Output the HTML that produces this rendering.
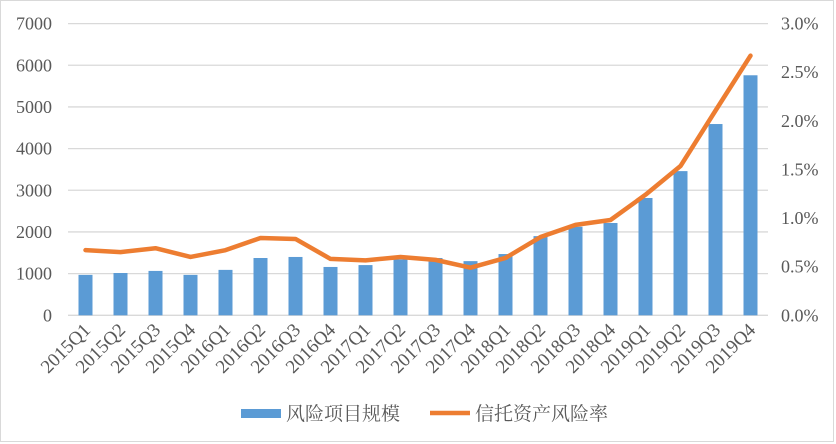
<!DOCTYPE html>
<html><head><meta charset="utf-8"><style>
html,body{margin:0;padding:0;background:#fff}
svg{display:block;font-family:"Liberation Serif","Noto Serif CJK SC","Noto Sans CJK SC",serif}
</style></head><body>
<svg id="chart" width="836" height="444" xmlns="http://www.w3.org/2000/svg">
<rect x="0.5" y="0.5" width="833" height="441" fill="#fff" stroke="#d9d9d9"/>
<g id="grid"></g>
<g id="bars"></g>
<polyline id="line" fill="none" stroke="#ed7d31" stroke-width="4.5" stroke-linejoin="round" stroke-linecap="round"/>
<g id="ylab"></g>
<g id="y2lab"></g>
<g id="xlab"></g>
<g>
<g>
<rect x="241" y="409" width="40" height="9" fill="#5b9bd5"/>
<text x="286" y="420" font-size="19" fill="#595959">风险项目规模</text></g>
<g>
<line x1="430" y1="413" x2="470" y2="413" stroke="#ed7d31" stroke-width="4.5"/>
<text x="475" y="420" font-size="19" fill="#595959">信托资产风险率</text></g>
</g>
</svg>
<script>
const categories=["2015Q1","2015Q2","2015Q3","2015Q4","2016Q1","2016Q2","2016Q3","2016Q4","2017Q1","2017Q2","2017Q3","2017Q4","2018Q1","2018Q2","2018Q3","2018Q4","2019Q1","2019Q2","2019Q3","2019Q4"];
const scaleValues=[970,1015,1065,970,1090,1375,1400,1160,1205,1340,1375,1300,1470,1900,2125,2215,2815,3460,4590,5760];
const rateValues=[0.67,0.65,0.69,0.60,0.67,0.795,0.785,0.58,0.565,0.60,0.57,0.49,0.59,0.805,0.93,0.98,1.24,1.535,2.105,2.67];
const leftTicks=[0,1000,2000,3000,4000,5000,6000,7000];
const rightTicks=["0.0%","0.5%","1.0%","1.5%","2.0%","2.5%","3.0%"];
const NS="http://www.w3.org/2000/svg";
const X0=68,X1=768,Y0=315.3,Y1=23.6;
const step=(X1-X0)/categories.length;
const xC=i=>X0+step*(i+0.5);
const yL=v=>Y0-(v/7000)*(Y0-Y1);
const yR=p=>Y0-(p/3)*(Y0-Y1);
function mk(t,a,p){const e=document.createElementNS(NS,t);for(const k in a)e.setAttribute(k,a[k]);p.appendChild(e);return e;}
const grid=document.getElementById('grid');
leftTicks.forEach((v,i)=>{
 const g=mk('line',{x1:X0,x2:X1,y1:yL(v),y2:yL(v),stroke:'#d9d9d9','stroke-width':1.3},grid);
 
 
 const t=mk('text',{x:52,y:yL(v)+6,'text-anchor':'end','font-size':18,fill:'#595959'},document.getElementById('ylab'));
 t.textContent=v;
 
 
});
rightTicks.forEach((s,i)=>{
 const t=mk('text',{x:781,y:yR(i*0.5)+6,'font-size':18,fill:'#595959'},document.getElementById('y2lab'));
 t.textContent=s;
 
 
});
const bars=document.getElementById('bars');
scaleValues.forEach((v,i)=>{
 const r=mk('rect',{x:xC(i)-7,y:yL(v),width:14,height:Y0-yL(v),fill:'#5b9bd5'},bars);
 
 
});
document.getElementById('line').setAttribute('points',rateValues.map((p,i)=>xC(i)+','+yR(p)).join(' '));
const xl=document.getElementById('xlab');
categories.forEach((c,i)=>{
 const x=xC(i)+6,y=331;
 const t=mk('text',{x:x,y:y,'text-anchor':'end','font-size':19,fill:'#595959',transform:`rotate(-45 ${x} ${y})`},xl);
 t.textContent=c;
 
 
});
</script>
</body></html>
